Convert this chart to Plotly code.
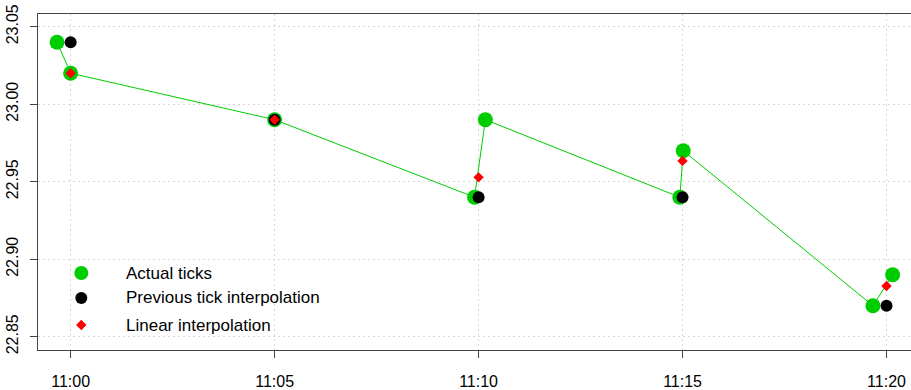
import plotly.graph_objects as go

# ---- data ----
actual_times = ["2024-01-01 10:59:40", "2024-01-01 11:00:00", "2024-01-01 11:05:00",
                "2024-01-01 11:09:54", "2024-01-01 11:10:10", "2024-01-01 11:14:56",
                "2024-01-01 11:15:01", "2024-01-01 11:19:40", "2024-01-01 11:20:09"]
actual_vals = [23.04, 23.02, 22.99, 22.94, 22.99, 22.94, 22.97, 22.87, 22.89]

grid_times = ["2024-01-01 11:00:00", "2024-01-01 11:05:00", "2024-01-01 11:10:00",
              "2024-01-01 11:15:00", "2024-01-01 11:20:00"]
prev_vals = [23.04, 22.99, 22.94, 22.94, 22.87]
linear_vals = [23.02, 22.99, 22.9528, 22.9634, 22.8827]

x_tick_labels = ["11:00", "11:05", "11:10", "11:15", "11:20"]
y_tick_vals = [22.85, 22.90, 22.95, 23.00, 23.05]

legend_labels = ["Actual ticks", "Previous tick interpolation", "Linear interpolation"]

GREEN = "#00CD00"
FONT = "Liberation Sans, Arial, sans-serif"
AXCOL = "#444444"
GRIDCOL = "#D8D8D8"

fig = go.Figure()

fig.add_trace(go.Scatter(x=actual_times, y=actual_vals, mode="lines",
                         line=dict(color=GREEN, width=1), showlegend=False, hoverinfo="skip"))
fig.add_trace(go.Scatter(x=actual_times, y=actual_vals, mode="markers",
                         marker=dict(symbol="x-thin", size=11, line=dict(color=GREEN, width=1)),
                         showlegend=False, hoverinfo="skip"))
fig.add_trace(go.Scatter(x=actual_times, y=actual_vals, mode="markers",
                         marker=dict(symbol="circle", size=15, color=GREEN, line=dict(width=0)),
                         name=legend_labels[0], showlegend=False))
fig.add_trace(go.Scatter(x=grid_times, y=prev_vals, mode="markers",
                         marker=dict(symbol="circle", size=12, color="black", line=dict(width=0)),
                         name=legend_labels[1], showlegend=False))
fig.add_trace(go.Scatter(x=grid_times, y=linear_vals, mode="markers",
                         marker=dict(symbol="diamond", size=8, color="#FF0000", line=dict(width=0)),
                         name=legend_labels[2], showlegend=False))

# ---- manual legend (overlay axes in plot-area fractions) ----
leg_x = 0.0496
leg_ys = [0.229, 0.155, 0.0744]
text_x = 0.098
fig.add_trace(go.Scatter(x=[leg_x], y=[leg_ys[0]], xaxis="x2", yaxis="y2", mode="markers",
                         marker=dict(symbol="x-thin", size=10, line=dict(color=GREEN, width=1)),
                         showlegend=False, hoverinfo="skip"))
fig.add_trace(go.Scatter(x=[leg_x], y=[leg_ys[0]], xaxis="x2", yaxis="y2", mode="markers",
                         marker=dict(symbol="circle", size=14, color=GREEN),
                         showlegend=False, hoverinfo="skip"))
fig.add_trace(go.Scatter(x=[leg_x], y=[leg_ys[1]], xaxis="x2", yaxis="y2", mode="markers",
                         marker=dict(symbol="circle", size=12, color="black"),
                         showlegend=False, hoverinfo="skip"))
fig.add_trace(go.Scatter(x=[leg_x], y=[leg_ys[2]], xaxis="x2", yaxis="y2", mode="markers",
                         marker=dict(symbol="diamond", size=8, color="#FF0000"),
                         showlegend=False, hoverinfo="skip"))
for lbl, ly in zip(legend_labels, leg_ys):
    fig.add_annotation(x=text_x, y=ly, xref="paper", yref="paper", text=lbl,
                       showarrow=False, xanchor="left", yanchor="middle",
                       font=dict(family=FONT, size=17, color="black"))

fig.update_layout(
    width=911, height=390,
    margin=dict(l=38, r=0, t=14, b=40),
    paper_bgcolor="white", plot_bgcolor="white",
    font=dict(family=FONT, size=16, color="black"),
    showlegend=False,
    xaxis=dict(
        type="date", automargin=False,
        range=["2024-01-01 10:59:12", "2024-01-01 11:20:36"],
        tickvals=grid_times, ticktext=x_tick_labels,
        showgrid=True, gridcolor=GRIDCOL, griddash="2px,3px", gridwidth=1,
        showline=True, linecolor=AXCOL, linewidth=1, mirror=True,
        ticks="outside", ticklen=7, tickcolor=AXCOL, ticklabelstandoff=10,
        tickfont=dict(size=16), zeroline=False,
    ),
    yaxis=dict(
        automargin=False,
        range=[22.8414, 23.0582],
        tickvals=y_tick_vals, tickformat=".2f", tickangle=-90,
        showgrid=True, gridcolor=GRIDCOL, griddash="2px,3px", gridwidth=1,
        showline=True, linecolor=AXCOL, linewidth=1, mirror=False,
        ticks="outside", ticklen=7, tickcolor=AXCOL, ticklabelstandoff=6,
        tickfont=dict(size=16), zeroline=False,
    ),
    xaxis2=dict(range=[0, 1], overlaying="x", visible=False, fixedrange=True),
    yaxis2=dict(range=[0, 1], overlaying="y", visible=False, fixedrange=True),
)

fig.write_html("out.html", config={"displayModeBar": False},
               post_script="document.body.style.margin='0px';document.body.style.overflow='hidden';")
